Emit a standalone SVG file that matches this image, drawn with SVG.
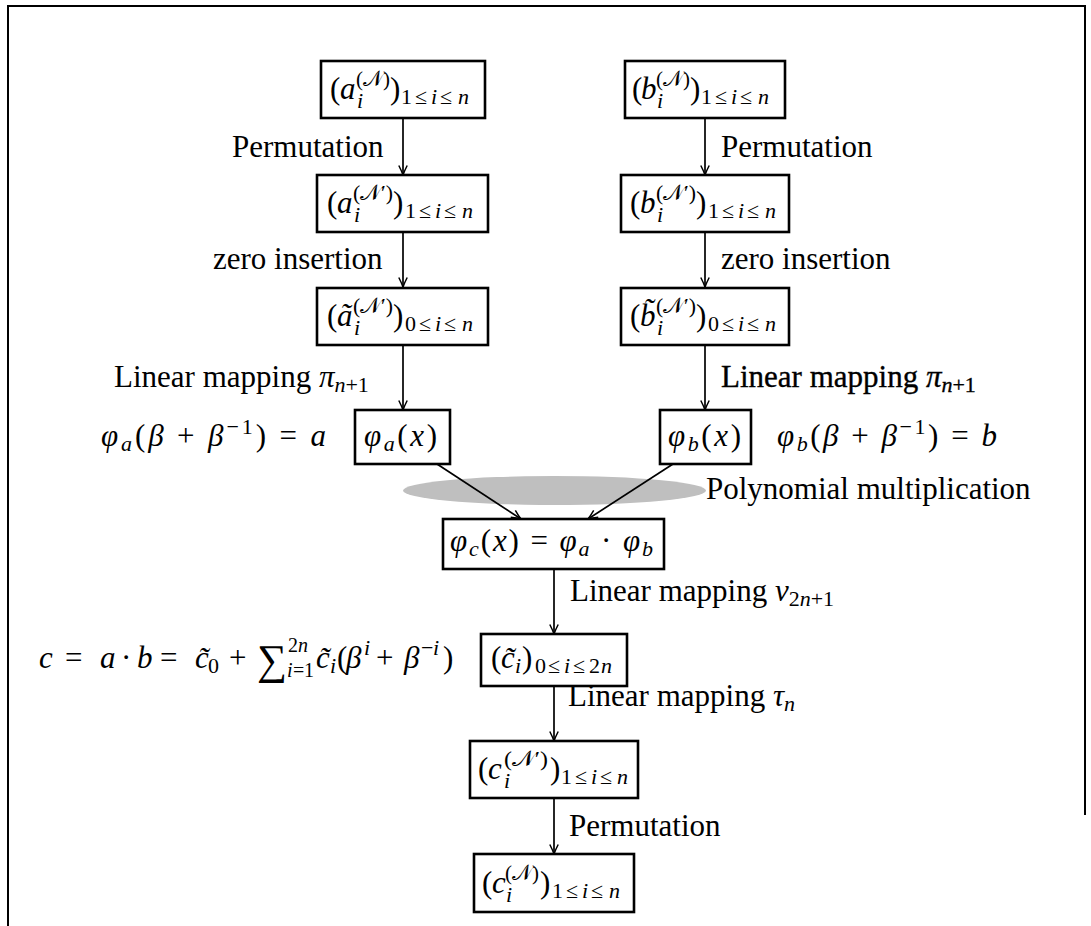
<svg xmlns="http://www.w3.org/2000/svg" width="1091" height="926" viewBox="0 0 1091 926">
<defs>
<style>
.t{font-family:"Liberation Serif","Times New Roman",serif;font-size:31px;fill:#000}
.i{font-style:italic}
.s{font-size:22px}
.l{font-size:20px}
.box{fill:#fff;stroke:#000;stroke-width:2.6}
.c{stroke:#000;stroke-width:1.7;fill:none;marker-end:url(#ah)}
</style>
<marker id="ah" markerUnits="userSpaceOnUse" viewBox="0 0 12 12" markerWidth="12" markerHeight="12" refX="11" refY="6" orient="auto">
<path d="M1.5,1.8 Q7,4.6 11,6 Q7,7.4 1.5,10.2" fill="none" stroke="#000" stroke-width="1.5"/>
</marker>
</defs>
<rect width="1091" height="926" fill="#fff"/>
<path d="M8,926 V6 H1085 V815" fill="none" stroke="#000" stroke-width="2"/>
<ellipse id="ellipse" cx="554.5" cy="490.5" rx="151.5" ry="14.5" fill="#bfbfbf"/>

<g id="connectors">
<line class="c" x1="403" y1="118" x2="403" y2="175"/>
<line class="c" x1="403" y1="232" x2="403" y2="287"/>
<line class="c" x1="403" y1="346" x2="403" y2="410"/>
<line class="c" x1="705" y1="118" x2="705" y2="175"/>
<line class="c" x1="705" y1="232" x2="705" y2="287"/>
<line class="c" x1="705" y1="346" x2="705" y2="410"/>
<line class="c" x1="437" y1="464" x2="521" y2="519"/>
<line class="c" x1="673" y1="464" x2="588" y2="519"/>
<line class="c" x1="554" y1="569" x2="554" y2="634"/>
<line class="c" x1="554" y1="686" x2="554" y2="741"/>
<line class="c" x1="554" y1="798" x2="554" y2="854"/>
</g>

<g id="labels">
<text class="t" x="232" y="157">Permutation</text>
<text class="t" x="721" y="157">Permutation</text>
<text class="t" x="213" y="269">zero insertion</text>
<text class="t" x="721" y="269">zero insertion</text>
<text class="t" x="114" y="387">Linear mapping <tspan class="i">π</tspan><tspan class="s i" dy="5">n</tspan><tspan class="s">+1</tspan></text>
<text class="t" x="721" y="387" stroke="#000" stroke-width="0.35">Linear mapping <tspan class="i">π</tspan><tspan class="s i" dy="5">n</tspan><tspan class="s">+1</tspan></text>
<text class="t" x="101" y="446" textLength="225" lengthAdjust="spacing"><tspan class="i">φ</tspan><tspan class="s i" dy="5">a</tspan><tspan dy="-5">(</tspan><tspan class="i">β</tspan> + <tspan class="i">β</tspan><tspan class="s" dy="-12">−1</tspan><tspan dy="12">) = </tspan><tspan class="i">a</tspan></text>
<text class="t" x="777" y="446" textLength="220" lengthAdjust="spacing"><tspan class="i">φ</tspan><tspan class="s i" dy="5">b</tspan><tspan dy="-5">(</tspan><tspan class="i">β</tspan> + <tspan class="i">β</tspan><tspan class="s" dy="-12">−1</tspan><tspan dy="12">) = </tspan><tspan class="i">b</tspan></text>
<text class="t" x="706" y="499">Polynomial multiplication</text>
<text class="t" x="570" y="601">Linear mapping <tspan class="i">ν</tspan><tspan class="s" dy="5">2<tspan class="i">n</tspan>+1</tspan></text>
<text class="t" x="568" y="706">Linear mapping <tspan class="i">τ</tspan><tspan class="s i" dy="5">n</tspan></text>
<text class="t" x="569" y="836">Permutation</text>
<text id="sum-formula" class="t"><tspan class="i" x="39" y="668">c</tspan><tspan x="65">=</tspan><tspan class="i" x="100">a</tspan><tspan x="121">·</tspan><tspan class="i" x="137">b</tspan><tspan x="160">=</tspan><tspan class="i" x="195">c̃</tspan><tspan class="s" x="208" y="673">0</tspan><tspan x="229" y="668">+</tspan><tspan x="257" y="674" style="font-size:42px">∑</tspan><tspan class="l" x="288" y="652">2</tspan><tspan class="l i" x="298">n</tspan><tspan class="l i" x="287" y="677">i</tspan><tspan class="l" x="293">=</tspan><tspan class="l" x="304">1</tspan><tspan class="i" x="316" y="668">c̃</tspan><tspan class="s i" x="330" y="673">i</tspan><tspan x="337" y="668">(</tspan><tspan class="i" x="346">β</tspan><tspan class="s i" x="364" y="655">i</tspan><tspan x="376" y="668">+</tspan><tspan class="i" x="404">β</tspan><tspan class="s" x="421" y="655">−</tspan><tspan class="s i" x="433">i</tspan><tspan x="443" y="668">)</tspan></text>
</g>

<g id="node-a1">
<rect class="box" x="321" y="61" width="164" height="57"/>
<text class="t"><tspan x="330" y="99">(</tspan><tspan class="i" x="340">a</tspan><tspan class="s i" x="357" y="108">i</tspan><tspan x="390" y="99">)</tspan><tspan class="s" x="401" y="104">1</tspan><tspan class="s" x="415">≤</tspan><tspan class="s i" x="431">i</tspan><tspan class="s" x="440">≤</tspan><tspan class="s i" x="458">n</tspan></text>
<text class="t s" x="356" y="86" textLength="34" lengthAdjust="spacingAndGlyphs">(𝒩)</text>
</g>
<g id="node-a2">
<rect class="box" x="317" y="175" width="171" height="57"/>
<text class="t"><tspan x="327" y="213">(</tspan><tspan class="i" x="337">a</tspan><tspan class="s i" x="354" y="222">i</tspan><tspan x="393" y="213">)</tspan><tspan class="s" x="405" y="218">1</tspan><tspan class="s" x="419">≤</tspan><tspan class="s i" x="435">i</tspan><tspan class="s" x="444">≤</tspan><tspan class="s i" x="462">n</tspan></text>
<text class="t s" x="353" y="200" textLength="40" lengthAdjust="spacingAndGlyphs">(𝒩′)</text>
</g>
<g id="node-a3">
<rect class="box" x="317" y="288" width="171" height="57"/>
<text class="t"><tspan x="327" y="326">(</tspan><tspan class="i" x="337">ã</tspan><tspan class="s i" x="354" y="335">i</tspan><tspan x="393" y="326">)</tspan><tspan class="s" x="405" y="331">0</tspan><tspan class="s" x="419">≤</tspan><tspan class="s i" x="435">i</tspan><tspan class="s" x="444">≤</tspan><tspan class="s i" x="462">n</tspan></text>
<text class="t s" x="353" y="313" textLength="40" lengthAdjust="spacingAndGlyphs">(𝒩′)</text>
</g>
<g id="node-b1">
<rect class="box" x="625" y="61" width="160" height="57"/>
<text class="t"><tspan x="632" y="99">(</tspan><tspan class="i" x="641">b</tspan><tspan class="s i" x="657" y="108">i</tspan><tspan x="690" y="99">)</tspan><tspan class="s" x="701" y="104">1</tspan><tspan class="s" x="715">≤</tspan><tspan class="s i" x="731">i</tspan><tspan class="s" x="740">≤</tspan><tspan class="s i" x="758">n</tspan></text>
<text class="t s" x="656" y="86" textLength="34" lengthAdjust="spacingAndGlyphs">(𝒩)</text>
</g>
<g id="node-b2">
<rect class="box" x="621" y="175" width="168" height="57"/>
<text class="t"><tspan x="630" y="213">(</tspan><tspan class="i" x="640">b</tspan><tspan class="s i" x="657" y="222">i</tspan><tspan x="696" y="213">)</tspan><tspan class="s" x="708" y="218">1</tspan><tspan class="s" x="722">≤</tspan><tspan class="s i" x="738">i</tspan><tspan class="s" x="747">≤</tspan><tspan class="s i" x="765">n</tspan></text>
<text class="t s" x="656" y="200" textLength="40" lengthAdjust="spacingAndGlyphs">(𝒩′)</text>
</g>
<g id="node-b3">
<rect class="box" x="621" y="288" width="168" height="57"/>
<text class="t"><tspan x="630" y="326">(</tspan><tspan class="i" x="640">b̃</tspan><tspan class="s i" x="657" y="335">i</tspan><tspan x="696" y="326">)</tspan><tspan class="s" x="708" y="331">0</tspan><tspan class="s" x="722">≤</tspan><tspan class="s i" x="738">i</tspan><tspan class="s" x="747">≤</tspan><tspan class="s i" x="765">n</tspan></text>
<text class="t s" x="656" y="313" textLength="40" lengthAdjust="spacingAndGlyphs">(𝒩′)</text>
</g>
<g id="node-phia">
<rect class="box" x="355" y="410" width="95" height="54"/>
<text class="t" x="364" y="446" textLength="73" lengthAdjust="spacing"><tspan class="i">φ</tspan><tspan class="s i" dy="5">a</tspan><tspan dy="-5">(</tspan><tspan class="i">x</tspan>)</text>
</g>
<g id="node-phib">
<rect class="box" x="660" y="410" width="91" height="54"/>
<text class="t" x="668" y="446" textLength="73" lengthAdjust="spacing"><tspan class="i">φ</tspan><tspan class="s i" dy="5">b</tspan><tspan dy="-5">(</tspan><tspan class="i">x</tspan>)</text>
</g>
<g id="node-phic">
<rect class="box" x="443" y="519" width="221" height="50"/>
<text class="t" x="450" y="551" textLength="203" lengthAdjust="spacing"><tspan class="i">φ</tspan><tspan class="s i" dy="5">c</tspan><tspan dy="-5">(</tspan><tspan class="i">x</tspan>) = <tspan class="i">φ</tspan><tspan class="s i" dy="5">a</tspan><tspan dy="-5"> · </tspan><tspan class="i">φ</tspan><tspan class="s i" dy="5">b</tspan></text>
</g>
<g id="node-ctilde">
<rect class="box" x="481" y="634" width="146" height="52"/>
<text class="t"><tspan x="491" y="668">(</tspan><tspan class="i" x="501">c̃</tspan><tspan class="s i" x="515" y="673">i</tspan><tspan x="522" y="668">)</tspan><tspan class="s" x="535" y="673">0</tspan><tspan class="s" x="548">≤</tspan><tspan class="s i" x="564">i</tspan><tspan class="s" x="573">≤</tspan><tspan class="s" x="589">2</tspan><tspan class="s i" x="601">n</tspan></text>
</g>
<g id="node-c1">
<rect class="box" x="470" y="741" width="168" height="57"/>
<text class="t"><tspan x="478" y="779">(</tspan><tspan class="i" x="488">c</tspan><tspan class="s i" x="504" y="788">i</tspan><tspan x="550" y="779">)</tspan><tspan class="s" x="561" y="784">1</tspan><tspan class="s" x="575">≤</tspan><tspan class="s i" x="591">i</tspan><tspan class="s" x="600">≤</tspan><tspan class="s i" x="617">n</tspan></text>
<text class="t s" x="504" y="766" textLength="44" lengthAdjust="spacingAndGlyphs">(𝒩′)</text>
</g>
<g id="node-c2">
<rect class="box" x="474" y="854" width="160" height="58"/>
<text class="t"><tspan x="482" y="893">(</tspan><tspan class="i" x="492">c</tspan><tspan class="s i" x="506" y="902">i</tspan><tspan x="540" y="893">)</tspan><tspan class="s" x="552" y="898">1</tspan><tspan class="s" x="566">≤</tspan><tspan class="s i" x="582">i</tspan><tspan class="s" x="591">≤</tspan><tspan class="s i" x="609">n</tspan></text>
<text class="t s" x="505" y="880" textLength="34" lengthAdjust="spacingAndGlyphs">(𝒩)</text>
</g>
</svg>
